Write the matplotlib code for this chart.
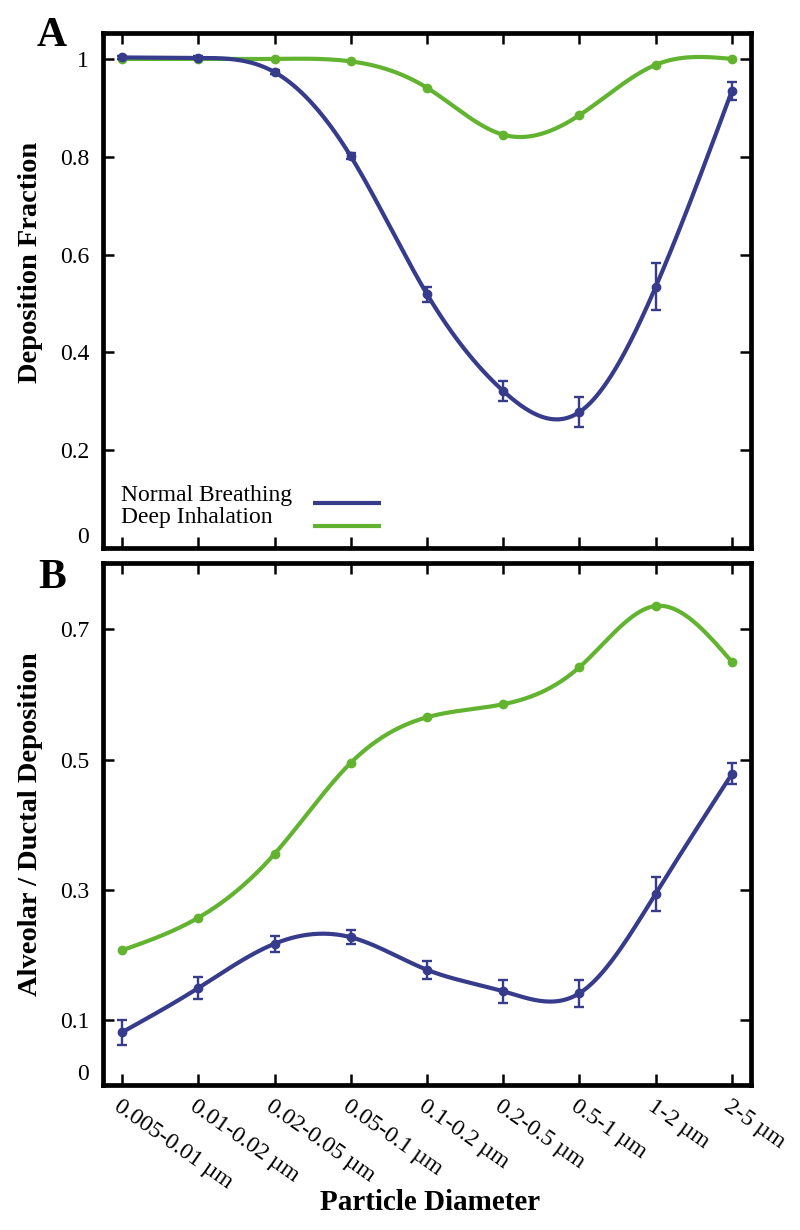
import numpy as np
import matplotlib
matplotlib.use("Agg")
import matplotlib.pyplot as plt
import matplotlib.transforms as mtransforms

categories = ["0.005-0.01 µm", "0.01-0.02 µm", "0.02-0.05 µm", "0.05-0.1 µm",
              "0.1-0.2 µm", "0.2-0.5 µm", "0.5-1 µm", "1-2 µm", "2-5 µm"]
series_names = ["Normal Breathing", "Deep Inhalation"]

# Panel A: deposition fraction
dep_normal = [1.003, 1.002, 0.973, 0.801, 0.519, 0.321, 0.278, 0.534, 0.935]
dep_normal_err = [0.003, 0.003, 0.004, 0.006, 0.015, 0.021, 0.031, 0.048, 0.018]
dep_deep = [1.0, 1.0, 1.0, 0.995, 0.941, 0.845, 0.885, 0.988, 1.0]

# Panel B: alveolar / ductal deposition
ad_normal = [0.081, 0.149, 0.217, 0.227, 0.177, 0.144, 0.141, 0.294, 0.478]
ad_normal_err = [0.019, 0.017, 0.012, 0.011, 0.014, 0.018, 0.021, 0.026, 0.016]
ad_deep = [0.207, 0.257, 0.355, 0.495, 0.565, 0.585, 0.642, 0.736, 0.650]

yticks_a = [0, 0.2, 0.4, 0.6, 0.8, 1]
yticklabels_a = ["0", "0.2", "0.4", "0.6", "0.8", "1"]
yticks_b = [0, 0.1, 0.3, 0.5, 0.7]
yticklabels_b = ["0", "0.1", "0.3", "0.5", "0.7"]

BLUE = "#363B8B"
GREEN = "#62B430"
SERIF = "Liberation Serif"
LW = 3.0


def natural_spline(x, y, xs):
    x = np.asarray(x, float)
    y = np.asarray(y, float)
    n = len(x)
    h = np.diff(x)
    A = np.zeros((n, n))
    r = np.zeros(n)
    A[0, 0] = 1
    A[-1, -1] = 1
    for i in range(1, n - 1):
        A[i, i - 1] = h[i - 1]
        A[i, i] = 2 * (h[i - 1] + h[i])
        A[i, i + 1] = h[i]
        r[i] = 6 * ((y[i + 1] - y[i]) / h[i] - (y[i] - y[i - 1]) / h[i - 1])
    M = np.linalg.solve(A, r)
    idx = np.clip(np.searchsorted(x, xs) - 1, 0, n - 2)
    x0, x1 = x[idx], x[idx + 1]
    hh = x1 - x0
    a = (x1 - xs) / hh
    b = (xs - x0) / hh
    return (a * y[idx] + b * y[idx + 1]
            + ((a ** 3 - a) * M[idx] + (b ** 3 - b) * M[idx + 1]) * hh ** 2 / 6)


fig = plt.figure(figsize=(8, 12.3), dpi=100)
W, H = 800, 1230


def axes_px(l, t, r, b):
    return fig.add_axes([l / W, 1 - b / H, (r - l) / W, (b - t) / H])


axA = axes_px(103, 33, 751, 548)
axB = axes_px(103, 563, 751, 1085)

xpos = np.arange(len(categories))
xs = np.linspace(0, len(categories) - 1, 800)

for ax, yn, ye, yd in [(axA, dep_normal, dep_normal_err, dep_deep),
                       (axB, ad_normal, ad_normal_err, ad_deep)]:
    ax.plot(xs, natural_spline(xpos, yd, xs), color=GREEN, lw=LW, zorder=3,
            solid_capstyle="round")
    ax.plot(xpos, yd, "o", color=GREEN, ms=6, zorder=4)
    ax.plot(xs, natural_spline(xpos, yn, xs), color=BLUE, lw=LW, zorder=5,
            solid_capstyle="round")
    ax.errorbar(xpos, yn, yerr=ye, fmt="o", color=BLUE, ms=6, capsize=3.5,
                elinewidth=1.7, capthick=1.7, zorder=6)
    ax.set_xlim(-0.25, 8.25)
    for s in ax.spines.values():
        s.set_linewidth(3.4)
    ax.tick_params(direction="in", length=8, width=1.8, top=True, right=True,
                   labelsize=17, pad=10)
    ax.set_xticks(xpos)

axA.set_ylim(0, 1.053)
axA.set_yticks(yticks_a)
axA.set_yticklabels(yticklabels_a, fontfamily=SERIF, fontsize=17)
axA.tick_params(labelbottom=False)

axB.set_ylim(0, 0.802)
axB.set_yticks(yticks_b)
axB.set_yticklabels(yticklabels_b, fontfamily=SERIF, fontsize=17)
axB.set_xticklabels(categories, fontfamily=SERIF, fontsize=17, rotation=-35,
                    ha="left", va="top", rotation_mode="anchor")
offset = mtransforms.ScaledTranslation(-6 / 100, -2 / 100, fig.dpi_scale_trans)
for lab in axB.get_xticklabels():
    lab.set_transform(lab.get_transform() + offset)
axB.tick_params(axis="x", pad=8)

for ax in (axA, axB):
    ax.get_yticklabels()[0].set_va("bottom")

# legend drawn in pixel-like axes coordinates
def ax_frac(ax, px, py, l=103, t=33, r=751, b=548):
    return (px - l) / (r - l), (b - py) / (b - t)

colors = [BLUE, GREEN]
text_y = [495, 518]
line_y = [503, 526]
for name, c, ty, ly in zip(series_names, colors, text_y, line_y):
    tx, tyf = ax_frac(axA, 121, ty)
    axA.text(tx, tyf, name, transform=axA.transAxes, fontfamily=SERIF,
             fontsize=17, ha="left", va="center")
    x0, yf = ax_frac(axA, 313, ly)
    x1, _ = ax_frac(axA, 381, ly)
    axA.plot([x0, x1], [yf, yf], transform=axA.transAxes, color=c, lw=LW,
             solid_capstyle="butt")

bold = {"family": SERIF, "weight": "bold"}
fig.text(52 / W, 1 - 36 / H, "A", fontsize=30, ha="center", va="center", **bold)
fig.text(52 / W, 1 - 578 / H, "B", fontsize=30, ha="center", va="center", **bold)
fig.text(31 / W, 1 - 262 / H, "Deposition Fraction", fontsize=20.5, rotation=90,
         ha="center", va="center", **bold)
fig.text(31 / W, 1 - 824 / H, "Alveolar / Ductal Deposition", fontsize=20.5,
         rotation=90, ha="center", va="center", **bold)
fig.text(430 / W, 1 - 1203 / H, "Particle Diameter", fontsize=21,
         ha="center", va="center", **bold)

fig.savefig("out.png", dpi=100)
